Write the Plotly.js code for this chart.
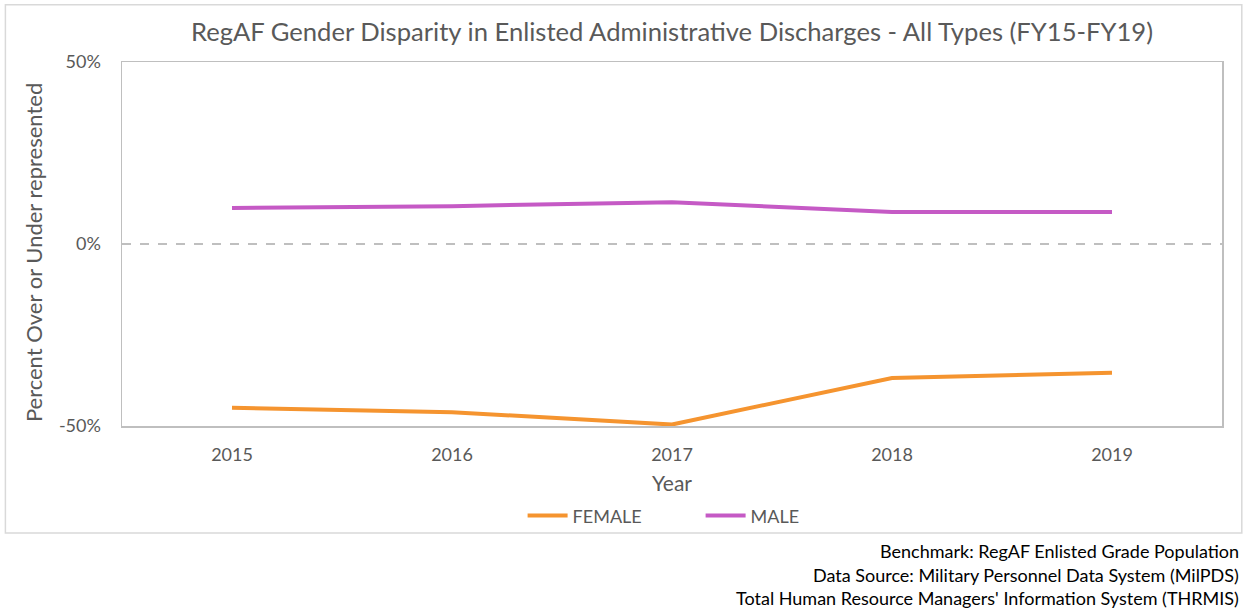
<!DOCTYPE html>
<html>
<head>
<meta charset="utf-8">
<script src="https://cdn.plot.ly/plotly-3.0.1.min.js"></script>
<style>html,body{margin:0;padding:0;background:#fff;}#chart{width:1244px;height:610px;}</style>
</head>
<body>
<div id="chart"></div>
<script>
const years = ["2015", "2016", "2017", "2018", "2019"];
const female = [-45.0, -46.2, -49.6, -36.8, -35.4];
const male = [9.9, 10.4, 11.5, 8.8, 8.8];
const yTickVals = [-50, 0, 50];
const yTickText = ["-50%", "0%", "50%"];
const yTitle = "Percent Over or Under represented";
const footnotes = [
  "Benchmark: RegAF Enlisted Grade Population",
  "Data Source: Military Personnel Data System (MilPDS)",
  "Total Human Resource Managers' Information System (THRMIS)"
];

const FONT = "Lato, 'Open Sans', sans-serif";
const GREY = "#595959";

const traces = [
  {x: years, y: female, name: "FEMALE", type: "scatter", mode: "lines",
   line: {color: "#F5942F", width: 4}},
  {x: years, y: male, name: "MALE", type: "scatter", mode: "lines",
   line: {color: "#C55AC5", width: 4}}
];

const footAnn = footnotes.map((t, i) => ({
  text: t, xref: "paper", yref: "paper", x: 1.0175, y: [-0.343, -0.409, -0.473][i],
  xanchor: "right", yanchor: "middle", showarrow: false,
  font: {family: FONT, size: 18, color: "#000"}
}));

const yTitleAnn = {
  text: yTitle, xref: "paper", yref: "paper", x: -0.0809, y: 0.475,
  xanchor: "center", yanchor: "middle", textangle: -90, showarrow: false,
  font: {family: FONT, size: 22, color: GREY}
};

const layout = {
  width: 1244, height: 610,
  margin: {l: 122, r: 22, t: 62, b: 184},
  paper_bgcolor: "#fff", plot_bgcolor: "#fff",
  title: {text: "RegAF Gender Disparity in Enlisted Administrative Discharges - All Types (FY15-FY19)",
          x: 0.5, xref: "paper", xanchor: "center", y: 1 - 32/610, yanchor: "middle",
          font: {family: FONT, size: 25.6, color: GREY}},
  xaxis: {type: "category", range: [-0.5, 4.5], showgrid: false, zeroline: false,
          showline: true, mirror: true, linecolor: "#bfbfbf", linewidth: 1.5,
          ticks: "", ticklabelstandoff: 12,
          tickfont: {family: FONT, size: 18, color: GREY},
          title: {text: "Year", standoff: 12, font: {family: FONT, size: 21, color: GREY}}},
  yaxis: {range: [-50, 50], tickvals: yTickVals, ticktext: yTickText,
          showgrid: false, zeroline: false, showline: true, mirror: true,
          linecolor: "#bfbfbf", linewidth: 1.5, ticks: "", ticklabelstandoff: 16,
          tickfont: {family: FONT, size: 18, color: GREY}},
  showlegend: true,
  legend: {orientation: "h", x: 0.526, xanchor: "center", y: -0.247, yanchor: "middle",
           entrywidth: 123, entrywidthmode: "pixels", itemwidth: 40,
           bgcolor: "rgba(0,0,0,0)",
           font: {family: FONT, size: 18, color: GREY}},
  shapes: [
    {type: "line", xref: "paper", yref: "y", x0: 0, x1: 1, y0: 0, y1: 0,
     line: {color: "#bfbfbf", width: 2, dash: "dash"}, layer: "below"},
    {type: "rect", xref: "paper", yref: "paper", x0: -0.106, x1: 1.018, y0: -0.294, y1: 1.157,
     line: {color: "#d9d9d9", width: 1.5}, fillcolor: "rgba(0,0,0,0)"}
  ],
  annotations: [yTitleAnn].concat(footAnn)
};

Plotly.newPlot("chart", traces, layout, {displayModeBar: false, staticPlot: true});
</script>
</body>
</html>
